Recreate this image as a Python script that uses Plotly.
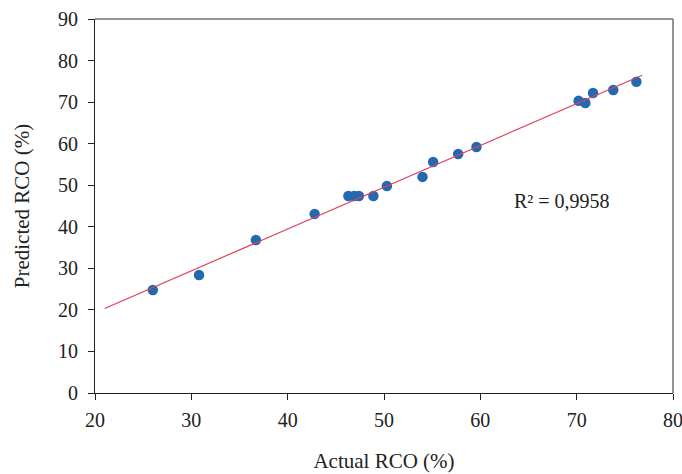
import numpy as np
import plotly.graph_objects as go

actual = [26.0, 30.8, 36.7, 42.8, 46.3, 46.9, 47.4, 48.9, 50.3, 54.0, 55.1, 57.7, 59.6, 70.2, 70.9, 71.7, 73.8, 76.2]
predicted = [24.8, 28.4, 36.8, 43.1, 47.4, 47.4, 47.4, 47.4, 49.8, 52.0, 55.6, 57.5, 59.2, 70.3, 69.8, 72.2, 72.9, 74.9]
x_ticks = [20, 30, 40, 50, 60, 70, 80]
y_ticks = [0, 10, 20, 30, 40, 50, 60, 70, 80, 90]
r2_text = "R\u00b2 = 0,9958"
trend_range = [21.0, 76.8]

slope, intercept = np.polyfit(actual, predicted, 1)
tx = np.array(trend_range)
ty = slope * tx + intercept

serif = "Liberation Serif, Times New Roman, serif"

fig = go.Figure()
fig.add_trace(go.Scatter(
    x=actual, y=predicted, mode="markers",
    marker=dict(size=10.5, color="#2269b0", line=dict(width=0)),
    showlegend=False, cliponaxis=False,
))
fig.add_trace(go.Scatter(
    x=tx, y=ty, mode="lines",
    line=dict(color="#e0405a", width=1.2),
    showlegend=False,
))

fig.add_annotation(x=68.5, y=46.2, text=r2_text, showarrow=False,
                   font=dict(family=serif, size=20, color="#222"))

# top and right frame in gray
fig.add_shape(type="line", xref="paper", yref="paper", x0=0, x1=1, y0=1, y1=1,
              line=dict(color="#707070", width=1.5))
fig.add_shape(type="line", xref="paper", yref="paper", x0=1, x1=1, y0=0, y1=1,
              line=dict(color="#707070", width=1.5))

fig.update_xaxes(
    range=[20, 80], tickvals=x_ticks, showgrid=False, zeroline=False,
    showline=True, linecolor="#222", linewidth=1.2,
    ticks="outside", ticklen=6, tickcolor="#222",
    tickfont=dict(family=serif, size=20, color="#222"),
    ticklabelstandoff=3, ticklabeloverflow="allow",
    title=dict(text="Actual RCO (%)", font=dict(family=serif, size=21, color="#222"), standoff=23),
)
fig.update_yaxes(
    range=[0, 90], tickvals=y_ticks, showgrid=False, zeroline=False,
    showline=True, linecolor="#222", linewidth=1.2,
    ticks="outside", ticklen=6, tickcolor="#222",
    tickfont=dict(family=serif, size=20, color="#222"),
    ticklabelstandoff=6,
    title=dict(text="Predicted RCO (%)", font=dict(family=serif, size=21, color="#222"), standoff=22),
)
fig.update_layout(
    width=682, height=474,
    margin=dict(l=95, r=9, t=19, b=81, autoexpand=False),
    plot_bgcolor="white", paper_bgcolor="white",
)
fig.write_html("out.html", config={"displayModeBar": False})

with open("out.html", "r", encoding="utf-8") as f:
    html = f.read()
html = html.replace("<body>", '<body style="margin:0;overflow:hidden">', 1)
with open("out.html", "w", encoding="utf-8") as f:
    f.write(html)
